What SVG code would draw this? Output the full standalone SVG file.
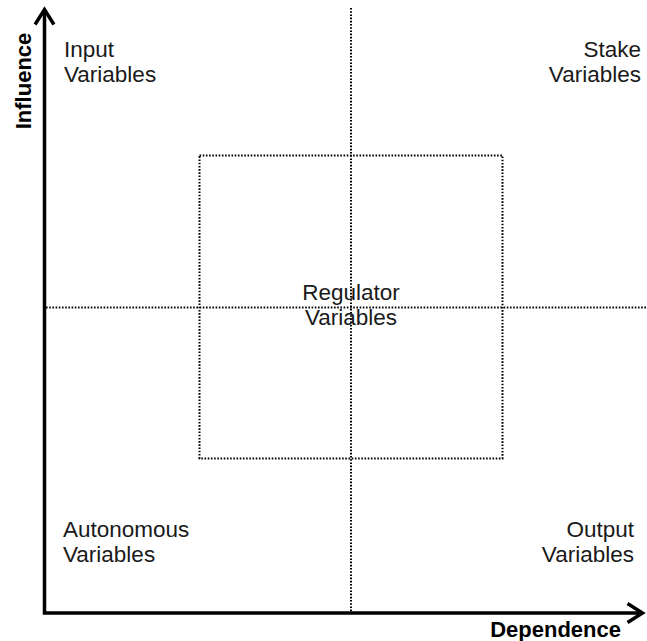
<svg xmlns="http://www.w3.org/2000/svg" width="647" height="641" viewBox="0 0 647 641">
<style>
.lbl{font-family:"Liberation Sans",Arial,sans-serif;font-size:22.5px;fill:#1a1a1a}
.ax{font-family:"Liberation Sans",Arial,sans-serif;font-size:22px;font-weight:bold;fill:#000}
.dot{fill:none;stroke:#000;stroke-width:2;stroke-dasharray:1.6 1.6}
.axis{fill:none;stroke:#000;stroke-width:3.5}
.head{fill:none;stroke:#000;stroke-width:3.5;stroke-linecap:square}
</style>
<rect width="647" height="641" fill="#fff"/>
<g id="connectors">
<line class="dot" x1="351" y1="8" x2="351" y2="612"/>
<line class="dot" x1="46" y1="307.5" x2="647" y2="307.5"/>
<path class="axis" d="M44.5 10 V613 H642"/>
<path class="head" d="M36 23 L44.5 9.5 L53 23"/>
<path class="head" d="M629 604.5 L642.5 613 L629 621.5"/>
</g>
<g id="regulator">
<rect class="dot" x="199.5" y="155.5" width="303" height="303"/>
<text class="lbl" x="351" y="300" text-anchor="middle">Regulator</text>
<text class="lbl" x="351" y="325" text-anchor="middle">Variables</text>
</g>
<g id="input">
<text class="lbl" x="64" y="57">Input</text>
<text class="lbl" x="64" y="82">Variables</text>
</g>
<g id="stake">
<text class="lbl" x="641" y="57" text-anchor="end">Stake</text>
<text class="lbl" x="641" y="82" text-anchor="end">Variables</text>
</g>
<g id="autonomous">
<text class="lbl" x="63" y="537">Autonomous</text>
<text class="lbl" x="63" y="562">Variables</text>
</g>
<g id="output">
<text class="lbl" x="634" y="537" text-anchor="end">Output</text>
<text class="lbl" x="634" y="562" text-anchor="end">Variables</text>
</g>
<g id="axis-labels">
<text class="ax" transform="translate(31,81) rotate(-90)" text-anchor="middle">Influence</text>
<text class="ax" x="621" y="637" text-anchor="end">Dependence</text>
</g>
</svg>
